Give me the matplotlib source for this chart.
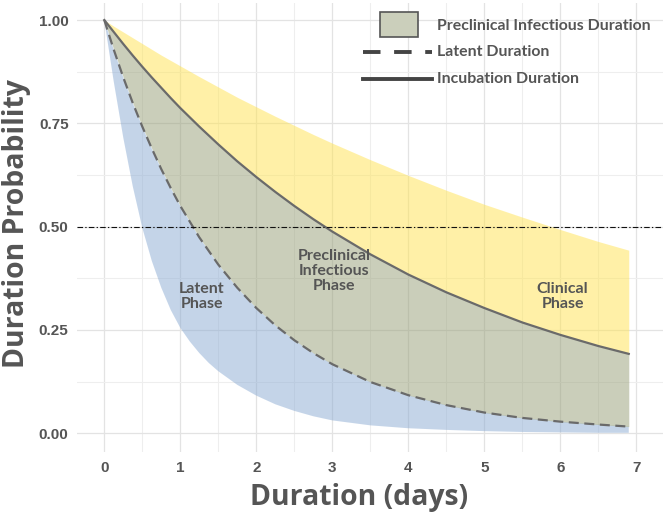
import matplotlib
matplotlib.use('Agg')
import matplotlib.pyplot as plt
from matplotlib.patches import Rectangle
from matplotlib.lines import Line2D

# 読み取り値（日数ごとの確率）
days = [0, 0.125, 0.25, 0.375, 0.5, 0.625, 0.75, 0.875, 1, 1.25, 1.5, 1.75, 2, 2.25, 2.5, 2.75, 3,
        3.5, 4, 4.5, 5, 5.5, 6, 6.5, 6.9]
clinical_upper = [1.0, 0.985, 0.971, 0.957, 0.943, 0.929, 0.915, 0.902, 0.889, 0.863, 0.838, 0.813,
                  0.790, 0.767, 0.745, 0.723, 0.702, 0.662, 0.624, 0.588, 0.554, 0.523, 0.493, 0.464, 0.443]
incubation = [1.0, 0.971, 0.942, 0.914, 0.887, 0.861, 0.836, 0.811, 0.787, 0.742, 0.699, 0.658,
              0.620, 0.584, 0.550, 0.518, 0.488, 0.433, 0.384, 0.341, 0.303, 0.268, 0.238, 0.211, 0.192]
latent = [1.0, 0.928, 0.861, 0.799, 0.742, 0.689, 0.639, 0.593, 0.550, 0.474, 0.408, 0.352,
          0.303, 0.261, 0.225, 0.194, 0.167, 0.124, 0.092, 0.068, 0.050, 0.037, 0.028, 0.021, 0.016]

# 潜伏期の下側境界（立ち上がりが急なので細かく読む）
lower_days = [0, 0.125, 0.25, 0.375, 0.5, 0.625, 0.75, 0.875, 1, 1.125, 1.25, 1.375, 1.5, 1.75,
              2, 2.25, 2.5, 2.75, 3, 3.5, 4, 4.5, 5, 5.5, 6, 6.5, 6.9]
latent_lower = [1.0, 0.85, 0.715, 0.597, 0.497, 0.417, 0.352, 0.298, 0.255, 0.222, 0.194, 0.17,
                0.15, 0.117, 0.091, 0.07, 0.054, 0.041, 0.031, 0.019, 0.012, 0.008, 0.005, 0.003,
                0.002, 0.001, 0.001]

x_ticks = [0, 1, 2, 3, 4, 5, 6, 7]
y_ticks = [0.0, 0.25, 0.5, 0.75, 1.0]
y_ticklabels = ["0.00", "0.25", "0.50", "0.75", "1.00"]

phase_labels = ["Latent\nPhase", "Preclinical\nInfectious\nPhase", "Clinical\nPhase"]
phase_pos = [(1.28, 0.33), (3.02, 0.392), (6.03, 0.33)]

legend_labels = ["Preclinical Infectious Duration", "Latent Duration", "Incubation Duration"]

TEXT = "#555555"
LINE = "#6a6a6a"


def main():
    fig = plt.figure(figsize=(6.69, 5.18), dpi=100)
    ax = fig.add_axes([0.115, 0.127, 0.876, 0.867])

    # グリッド
    ax.set_axisbelow(True)
    ax.set_xticks(x_ticks)
    ax.set_xticks([v + 0.5 for v in x_ticks[:-1]] + [-0.5, 7.5], minor=True)
    ax.set_yticks(y_ticks)
    ax.set_yticks([v + 0.125 for v in y_ticks[:-1]] + [-0.125, 1.125], minor=True)
    ax.grid(which="major", color="#e3e3e3", linewidth=0.9)
    ax.grid(which="minor", color="#eeeeee", linewidth=0.8)

    # 塗り分け
    ax.fill(lower_days + days[::-1], latent_lower + latent[::-1],
            color="#8babd3", alpha=0.5, linewidth=0)
    ax.fill_between(days, latent, incubation, color="#979f77", alpha=0.5, linewidth=0)
    ax.fill_between(days, incubation, clinical_upper, color="#ffe351", alpha=0.5, linewidth=0)

    ax.plot(days, incubation, color=LINE, linewidth=1.6)
    ax.plot(days, latent, color=LINE, linewidth=1.6, dashes=(4.5, 2.5))

    ax.axhline(0.5, color="#111111", linewidth=0.8, dashes=(5, 2, 1.2, 2))

    for label, (px, py) in zip(phase_labels, phase_pos):
        ax.text(px, py, label, ha="center", va="center", fontsize=11.5,
                fontweight="bold", color=TEXT, family="Lato", linespacing=1.1)

    ax.set_xlim(-0.36, 7.35)
    ax.set_ylim(-0.046, 1.041)
    ax.set_yticklabels(y_ticklabels)
    for s in ax.spines.values():
        s.set_visible(False)
    ax.tick_params(which="both", length=0, labelsize=11, labelcolor=TEXT, pad=6)
    for t in ax.get_xticklabels() + ax.get_yticklabels():
        t.set_fontweight("bold")
        t.set_family("Liberation Sans")

    fig.text(0.537, 0.04, "Duration (days)", ha="center", va="center", fontsize=20.4,
             fontweight="bold", color=TEXT, family="Open Sans")
    fig.text(0.024, 0.568, "Duration Probability", ha="center", va="center", fontsize=20.4,
             fontweight="bold", color=TEXT, family="Open Sans", rotation=90)

    # 凡例（手描き）
    tr = fig.transFigure
    W, H = 669.0, 518.0
    fig.patches.append(Rectangle((380 / W, 1 - 37 / H), 38 / W, 25 / H, transform=tr,
                                 facecolor="#cbcfbb", edgecolor="#555555", linewidth=1.2))
    fig.lines.append(Line2D([363 / W, 432 / W], [1 - 52 / H] * 2, transform=tr,
                            color="#444444", linewidth=2.8, dashes=(4.5, 3.5)))
    fig.lines.append(Line2D([363 / W, 432 / W], [1 - 79 / H] * 2, transform=tr,
                            color="#444444", linewidth=2.8))
    for label, py in zip(legend_labels, [26, 52, 79]):
        fig.text(437 / W, 1 - py / H, label, ha="left", va="center", fontsize=11.4,
                 fontweight="bold", color=TEXT, family="Lato")

    fig.savefig("out.png", dpi=100)


if __name__ == "__main__":
    main()
